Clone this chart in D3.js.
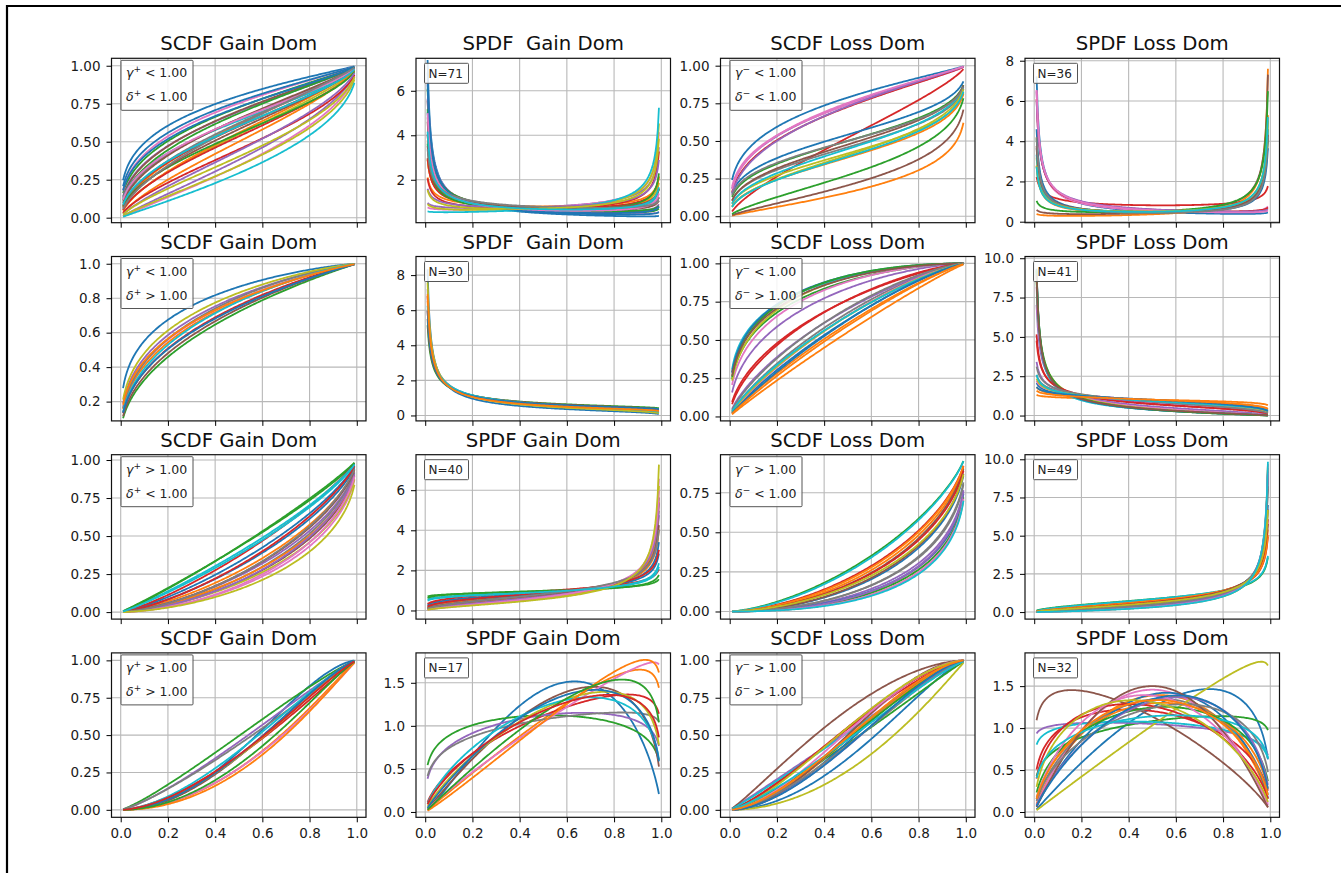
<!DOCTYPE html>
<html lang="en">
<head>
<meta charset="UTF-8">
<title>SCDF / SPDF by domain</title>
<style>
  body { margin: 0; background: #fff; }
  svg text { font-family: "DejaVu Sans", sans-serif; }
</style>
</head>
<body>
<script src="https://d3js.org/d3.v7.min.js"></script>
<script>
// one (gamma, delta) pair per subject curve
// row 1: gamma < 1, delta < 1
var gainGamma1 = [0.30,0.55,0.38,0.50,0.40,0.42,0.36,0.45,0.60,0.40,0.33,0.62,0.45,0.58,0.88,0.48,0.92,0.52,0.85,0.95,0.35,0.70,0.50,0.65,0.75,0.55,0.42,0.60,0.72,0.48];
var gainDelta1 = [0.95,0.80,0.85,0.70,0.80,0.85,0.90,0.75,0.70,0.65,0.88,0.75,0.85,0.65,0.60,0.80,0.55,0.78,0.50,0.47,0.80,0.70,0.60,0.55,0.62,0.72,0.70,0.85,0.52,0.68];
var lossGamma1 = [0.30,0.85,0.32,0.70,0.35,0.80,0.33,0.35,0.38,0.40,0.30,0.42,0.70,0.38,0.40,0.36,0.36,0.30,0.45,0.44];
var lossDelta1 = [0.90,0.20,0.32,0.75,0.85,0.25,0.80,0.30,0.28,0.33,0.35,0.28,0.30,0.85,0.90,0.33,0.90,0.30,0.32,0.30];
// row 2: gamma < 1, delta > 1
var gainGamma2 = [0.30,0.42,0.50,0.45,0.38,0.48,0.40,0.42,0.36,0.45,0.44,0.38];
var gainDelta2 = [1.30,1.15,1.05,1.10,1.20,1.08,1.15,1.25,1.25,1.20,1.05,1.10];
var lossGamma2 = [0.85,0.95,0.35,0.55,0.45,0.32,0.40,0.80,0.38,0.30,0.33,0.88,0.36,0.60,0.70,0.34,0.85,0.75,0.82,0.78,0.90,0.92];
var lossDelta2 = [1.25,1.10,1.60,1.30,1.50,1.80,1.70,1.35,1.90,1.70,1.90,1.20,2.00,1.40,1.30,1.75,1.35,1.40,1.30,1.25,1.30,1.20];
// row 3: gamma > 1, delta < 1
var gainGamma3 = [1.25,1.35,1.05,1.25,1.40,1.50,1.60,1.50,1.45,1.10,1.30,1.40,1.10,1.35,1.55,1.45,1.65,1.50,1.60,1.12];
var gainDelta3 = [0.75,0.65,0.85,0.85,0.60,0.55,0.50,0.60,0.50,0.80,0.70,0.55,0.90,0.75,0.58,0.65,0.55,0.68,0.45,0.78];
var lossGamma3 = [1.80,1.70,1.50,1.60,1.90,1.75,2.00,1.85,2.10,1.55,1.95,1.65,2.00,1.70,2.05,1.80,2.15,1.90,1.65,2.20];
var lossDelta3 = [0.50,0.60,0.72,0.62,0.38,0.58,0.36,0.42,0.33,0.72,0.36,0.62,0.34,0.55,0.38,0.52,0.34,0.44,0.50,0.33];
// row 4: gamma > 1, delta > 1
var gainGamma4 = [2.20,2.00,1.22,1.60,1.30,2.00,1.90,1.25,1.80,1.70,1.90,2.10,2.00,1.70];
var gainDelta4 = [1.70,1.10,1.20,1.10,1.15,1.40,1.03,1.05,1.25,1.30,1.35,1.08,1.20,1.20];
var lossGamma4 = [2.00,1.80,1.25,1.30,1.05,1.15,1.90,1.70,2.00,1.10,1.90,1.60,1.50,1.40,1.80,2.00,1.70,1.60,1.50,1.30,1.85,1.65];
var lossDelta4 = [1.35,1.70,1.07,1.45,1.12,1.80,1.90,1.60,1.04,1.15,1.70,1.50,1.40,1.60,1.50,2.00,1.80,1.35,1.70,1.20,1.55,1.60];

var nGain = [71, 30, 40, 17];
var nLoss = [36, 41, 49, 32];
var gammaSign = ["<", "<", ">", ">"];
var deltaSign = ["<", ">", "<", ">"];

var xTicks = [0, 0.2, 0.4, 0.6, 0.8, 1.0];
var cdfGainTicks = [[0, 0.25, 0.5, 0.75, 1], [0.2, 0.4, 0.6, 0.8, 1.0], [0, 0.25, 0.5, 0.75, 1], [0, 0.25, 0.5, 0.75, 1]];
var cdfGainFmt = [".2f", ".1f", ".2f", ".2f"];
var pdfGainTicks = [[2, 4, 6], [0, 2, 4, 6, 8], [0, 2, 4, 6], [0, 0.5, 1, 1.5]];
var pdfGainFmt = ["d", "d", "d", ".1f"];
var cdfLossTicks = [[0, 0.25, 0.5, 0.75, 1], [0, 0.25, 0.5, 0.75, 1], [0, 0.25, 0.5, 0.75], [0, 0.25, 0.5, 0.75, 1]];
var pdfLossTicks = [[0, 2, 4, 6, 8], [0, 2.5, 5, 7.5, 10], [0, 2.5, 5, 7.5, 10], [0, 0.5, 1, 1.5]];
var pdfLossFmt = ["d", ".1f", ".1f", ".1f"];

// y limits as shown on the axes
var cdfGainLim = [[-0.033, 1.049], [0.088, 1.042], [-0.046, 1.035], [-0.05, 1.05]];
var pdfGainLim = [[0.07, 7.46], [-0.31, 9.06], [-0.43, 7.77], [-0.062, 1.847]];
var cdfLossLim = [[-0.043, 1.049], [-0.029, 1.045], [-0.048, 0.99], [-0.05, 1.05]];
var pdfLossLim = [[-0.05, 8.12], [-0.34, 10.11], [-0.46, 10.3], [-0.063, 1.896]];

var pdfGainTitle = ["SPDF  Gain Dom", "SPDF  Gain Dom", "SPDF Gain Dom", "SPDF Gain Dom"];

// evaluation grid
var X_FIRST = 0.01, X_LAST = 0.99, X_STEP = 0.005;
var xs = d3.range(Math.round((X_LAST - X_FIRST) / X_STEP) + 1).map(function(i) { return +(X_FIRST + i * X_STEP).toFixed(4); });

function lnGamma(z) {
  var c = [0.99999999999980993, 676.5203681218851, -1259.1392167224028, 771.32342877765313,
    -176.61502916214059, 12.507343278686905, -0.13857109526572012, 9.9843695780195716e-6, 1.5056327351493116e-7];
  if (z < 0.5) return Math.log(Math.PI / Math.abs(Math.sin(Math.PI * z))) - lnGamma(1 - z);
  z -= 1;
  var s = c[0];
  for (var i = 1; i < 9; i++) s += c[i] / (z + i);
  var t = z + 7.5;
  return 0.5 * Math.log(2 * Math.PI) + (z + 0.5) * Math.log(t) - t + Math.log(s);
}
function lnBeta(a, b) { return lnGamma(a) + lnGamma(b) - lnGamma(a + b); }

function betaPdf(x, a, b) {
  return Math.exp((a - 1) * Math.log(x) + (b - 1) * Math.log(1 - x) - lnBeta(a, b));
}

function betacf(a, b, x) {
  var tiny = 1e-300, qab = a + b, qap = a + 1, qam = a - 1;
  var c = 1, d = 1 - qab * x / qap, h, aa, del;
  if (Math.abs(d) < tiny) d = tiny;
  d = 1 / d; h = d;
  for (var m = 1; m <= 300; m++) {
    var m2 = 2 * m;
    aa = m * (b - m) * x / ((qam + m2) * (a + m2));
    d = 1 + aa * d; if (Math.abs(d) < tiny) d = tiny;
    c = 1 + aa / c; if (Math.abs(c) < tiny) c = tiny;
    d = 1 / d; h *= d * c;
    aa = -(a + m) * (qab + m) * x / ((a + m2) * (qap + m2));
    d = 1 + aa * d; if (Math.abs(d) < tiny) d = tiny;
    c = 1 + aa / c; if (Math.abs(c) < tiny) c = tiny;
    d = 1 / d; del = d * c; h *= del;
    if (Math.abs(del - 1) < 1e-12) break;
  }
  return h;
}
function betaCdf(x, a, b) {
  var bt = Math.exp(a * Math.log(x) + b * Math.log(1 - x) - lnBeta(a, b));
  if (x < (a + 1) / (a + b + 2)) return bt * betacf(a, b, x) / a;
  return 1 - bt * betacf(b, a, 1 - x) / b;
}

// layout
var colLeft = [111.5, 416, 720.5, 1025];
var rowTop = [58.3, 256.5, 454.7, 652.9];
var W = 254.5, H = 164.4;
var colors = d3.schemeCategory10;

var xPad = 0.05 * (X_LAST - X_FIRST);
var xDomain = [X_FIRST - xPad, X_LAST + xPad];

var svg = d3.select("body").append("svg")
  .attr("width", 1341)
  .attr("height", 873);

svg.append("path")
  .attr("d", "M7,873V6H1341")
  .attr("fill", "none")
  .attr("stroke", "#000")
  .attr("stroke-width", 2.2);

function drawPanel(r, c, gammas, deltas, kind, yLim, yTicks, yFmt, title, boxLines) {
  var g = svg.append("g")
    .attr("transform", "translate(" + colLeft[c] + "," + rowTop[r] + ")");

  var x = d3.scaleLinear().domain(xDomain).range([0, W]);
  var y = d3.scaleLinear().domain(yLim).range([H, 0]);

  // grid
  g.append("g").selectAll("line").data(xTicks).enter().append("line")
    .attr("x1", function(d) { return x(d); }).attr("x2", function(d) { return x(d); })
    .attr("y1", 0).attr("y2", H)
    .attr("stroke", "#b8b8b8").attr("stroke-width", 1.1);
  g.append("g").selectAll("line").data(yTicks).enter().append("line")
    .attr("x1", 0).attr("x2", W)
    .attr("y1", function(d) { return y(d); }).attr("y2", function(d) { return y(d); })
    .attr("stroke", "#b8b8b8").attr("stroke-width", 1.1);

  var clipId = "clip" + r + c;
  g.append("clipPath").attr("id", clipId)
    .append("rect").attr("width", W).attr("height", H);

  var curves = gammas.map(function(ga, i) {
    var de = deltas[i];
    return xs.map(function(v) {
      return [v, kind == "cdf" ? betaCdf(v, ga, de) : betaPdf(v, ga, de)];
    });
  });

  var line = d3.line()
    .x(function(d) { return x(d[0]); })
    .y(function(d) { return y(d[1]); });

  g.append("g").attr("clip-path", "url(#" + clipId + ")")
    .selectAll("path").data(curves).enter().append("path")
    .attr("d", line)
    .attr("fill", "none")
    .attr("stroke", function(d, i) { return colors[i % 10]; })
    .attr("stroke-width", 1.8);

  // frame
  g.append("rect")
    .attr("width", W).attr("height", H)
    .attr("fill", "none").attr("stroke", "#111").attr("stroke-width", 1.2);

  var yAxis = d3.axisLeft(y).tickValues(yTicks).tickFormat(d3.format(yFmt))
    .tickSize(5).tickPadding(6);
  var ya = g.append("g").call(yAxis);
  ya.select(".domain").remove();
  ya.selectAll("text").attr("font-size", "13.5px").attr("fill", "#1a1a1a")
    .style("font-family", "DejaVu Sans, sans-serif");

  var xAxis = d3.axisBottom(x).tickValues(xTicks)
    .tickFormat(r == 3 ? d3.format(".1f") : function() { return ""; })
    .tickSize(5).tickPadding(6);
  var xa = g.append("g").attr("transform", "translate(0," + H + ")").call(xAxis);
  xa.select(".domain").remove();
  xa.selectAll("text").attr("font-size", "13.5px").attr("fill", "#1a1a1a")
    .style("font-family", "DejaVu Sans, sans-serif");

  g.append("text")
    .attr("x", W / 2).attr("y", -8)
    .attr("text-anchor", "middle")
    .attr("font-size", "19.7px")
    .attr("fill", "#111")
    .style("white-space", "pre")
    .text(title);

  // legend box
  if (boxLines.length == 2) {
    g.append("rect")
      .attr("x", 9.5).attr("y", 2).attr("width", 72).attr("height", 50).attr("rx", 1)
      .attr("fill", "#fff").attr("fill-opacity", 0.85)
      .attr("stroke", "#555").attr("stroke-width", 1);
    boxLines.forEach(function(l, i) {
      var t = g.append("text")
        .attr("x", 14.5).attr("y", 19 + i * 24)
        .attr("font-size", "12.5px").attr("fill", "#222");
      t.append("tspan").attr("font-style", "italic").text(l[0]);
      t.append("tspan").attr("font-size", "9px").attr("dy", -5).text(l[1]);
      t.append("tspan").attr("dy", 5).text(" " + l[2] + " 1.00");
    });
  } else {
    g.append("rect")
      .attr("x", 8.5).attr("y", 5).attr("width", 44).attr("height", 20).attr("rx", 1)
      .attr("fill", "#fff").attr("fill-opacity", 0.85)
      .attr("stroke", "#555").attr("stroke-width", 1);
    g.append("text")
      .attr("x", 12.5).attr("y", 19.5)
      .attr("font-size", "12px").attr("fill", "#222")
      .text(boxLines[0]);
  }
}

var gainGammas = [gainGamma1, gainGamma2, gainGamma3, gainGamma4];
var gainDeltas = [gainDelta1, gainDelta2, gainDelta3, gainDelta4];
var lossGammas = [lossGamma1, lossGamma2, lossGamma3, lossGamma4];
var lossDeltas = [lossDelta1, lossDelta2, lossDelta3, lossDelta4];

for (var r = 0; r < 4; r++) {
  drawPanel(r, 0, gainGammas[r], gainDeltas[r], "cdf", cdfGainLim[r], cdfGainTicks[r], cdfGainFmt[r],
    "SCDF Gain Dom", [["γ", "+", gammaSign[r]], ["δ", "+", deltaSign[r]]]);
  drawPanel(r, 1, gainGammas[r], gainDeltas[r], "pdf", pdfGainLim[r], pdfGainTicks[r], pdfGainFmt[r],
    pdfGainTitle[r], ["N=" + nGain[r]]);
  drawPanel(r, 2, lossGammas[r], lossDeltas[r], "cdf", cdfLossLim[r], cdfLossTicks[r], ".2f",
    "SCDF Loss Dom", [["γ", "−", gammaSign[r]], ["δ", "−", deltaSign[r]]]);
  drawPanel(r, 3, lossGammas[r], lossDeltas[r], "pdf", pdfLossLim[r], pdfLossTicks[r], pdfLossFmt[r],
    "SPDF Loss Dom", ["N=" + nLoss[r]]);
}
</script>
</body>
</html>
